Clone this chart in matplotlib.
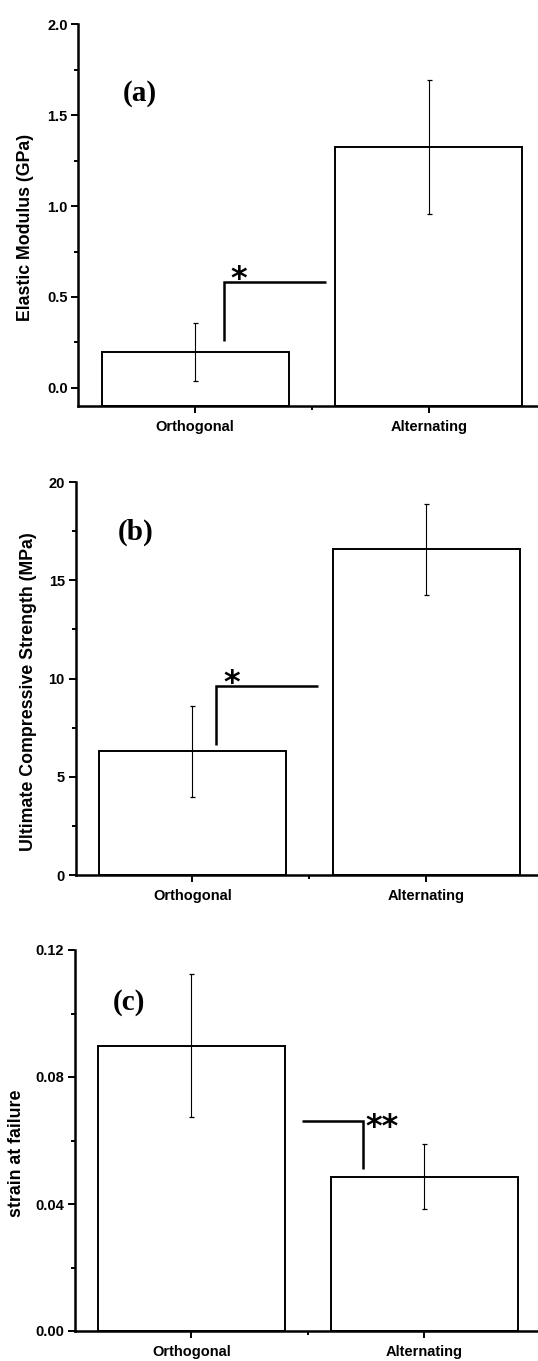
import matplotlib
matplotlib.use("Agg")
import matplotlib.pyplot as plt
from matplotlib.ticker import MultipleLocator, FixedLocator, FormatStrFormatter

# ---------------- data ----------------
categories = ["Orthogonal", "Alternating"]

modulus_vals = [0.197, 1.323]        # GPa
modulus_err = [0.157, 0.368]

ucs_vals = [6.30, 16.57]             # MPa
ucs_err = [2.31, 2.30]

strain_vals = [0.0899, 0.0486]
strain_err = [0.0224, 0.0102]

ylabels = ["Elastic Modulus (GPa)", "Ultimate Compressive Strength (MPa)", "strain at failure"]
panel_tags = ["(a)", "(b)", "(c)"]
ylims = [(-0.1, 2.0), (0.0, 20.0), (0.0, 0.12)]
major_steps = [0.5, 5.0, 0.04]
tick_fmts = ["%.1f", "%d", "%.2f"]

# significance brackets: x points, y points
brackets = [
    [(1.124, 1.124, 1.561), (0.259, 0.582, 0.582)],
    [(1.101, 1.101, 1.539), (6.63, 9.64, 9.64)],
    [(1.736, 1.736, 1.473), (0.0511, 0.0662, 0.0662)],
]
stars = ["*", "*", "**"]
star_pos = [(1.187, 0.640), (1.167, 10.19), (1.820, 0.0665)]
tag_pos = [(0.764, 1.617), (0.757, 17.44), (0.732, 0.1035)]

# ---------------- layout ----------------
W, H = 538, 1361
fig = plt.figure(figsize=(W / 100, H / 100), dpi=100)

# axes boxes in pixels: (left, top, bottom, spacing between categories)
boxes = [(78.2, 24.3, 406.0, 233.7), (75.5, 482.0, 875.3, 233.7), (74.8, 950.0, 1331.0, 233.1)]
ylabel_x = [-0.096, -0.084, -0.108]

sans = "Liberation Sans"
serif = "Liberation Serif"

series = [(modulus_vals, modulus_err), (ucs_vals, ucs_err), (strain_vals, strain_err)]
x = [1, 2]

for i, (vals, errs) in enumerate(series):
    left, top, bottom, sp = boxes[i]
    ax = fig.add_axes([left / W, 1 - bottom / H, 1 - left / W, (bottom - top) / H])
    xmax = 0.5 + (W - left) / sp
    ax.set_xlim(0.5, xmax)
    ymin, ymax = ylims[i]
    ax.set_ylim(ymin, ymax)

    heights = [v - ymin for v in vals]
    ax.bar(x, heights, bottom=ymin, width=0.8, facecolor="white",
           edgecolor="black", linewidth=1.4, zorder=2)
    ax.errorbar(x, vals, yerr=errs, fmt="none", ecolor="black",
                elinewidth=0.8, capsize=1.8, capthick=0.9, zorder=3)

    bx, by = brackets[i]
    ax.plot(bx, by, color="black", linewidth=1.8, solid_joinstyle="miter",
            solid_capstyle="butt", zorder=4)

    fs_star = 23
    ax.annotate(stars[i], xy=star_pos[i], xytext=(0, -0.52 * fs_star),
                textcoords="offset points", ha="center", va="baseline",
                fontsize=fs_star, fontweight="bold", family="DejaVu Sans")

    ax.text(tag_pos[i][0], tag_pos[i][1], panel_tags[i], ha="center", va="center",
            fontsize=21, fontweight="bold", family=serif)

    for s in ["top", "right"]:
        ax.spines[s].set_visible(False)
    for s in ["left", "bottom"]:
        ax.spines[s].set_linewidth(1.8)

    ax.yaxis.set_major_locator(MultipleLocator(major_steps[i]))
    ax.yaxis.set_minor_locator(MultipleLocator(major_steps[i] / 2))
    ax.yaxis.set_major_formatter(FormatStrFormatter(tick_fmts[i]))
    ax.xaxis.set_major_locator(FixedLocator(x))
    ax.xaxis.set_minor_locator(FixedLocator([1.5]))
    ax.set_xticklabels(categories)

    ax.tick_params(axis="both", which="major", direction="out", length=5.2, width=1.4,
                   labelsize=10.5, pad=2.5)
    ax.tick_params(axis="both", which="minor", direction="out", length=3.0, width=1.4)
    ax.tick_params(axis="x", which="major", pad=5)
    for lab in ax.get_xticklabels() + ax.get_yticklabels():
        lab.set_fontweight("bold")
        lab.set_family(sans)

    ax.set_ylabel(ylabels[i], fontsize=12.8, fontweight="bold", family=sans)
    ax.yaxis.set_label_coords(ylabel_x[i], 0.467)

fig.savefig("out.png", dpi=100)
